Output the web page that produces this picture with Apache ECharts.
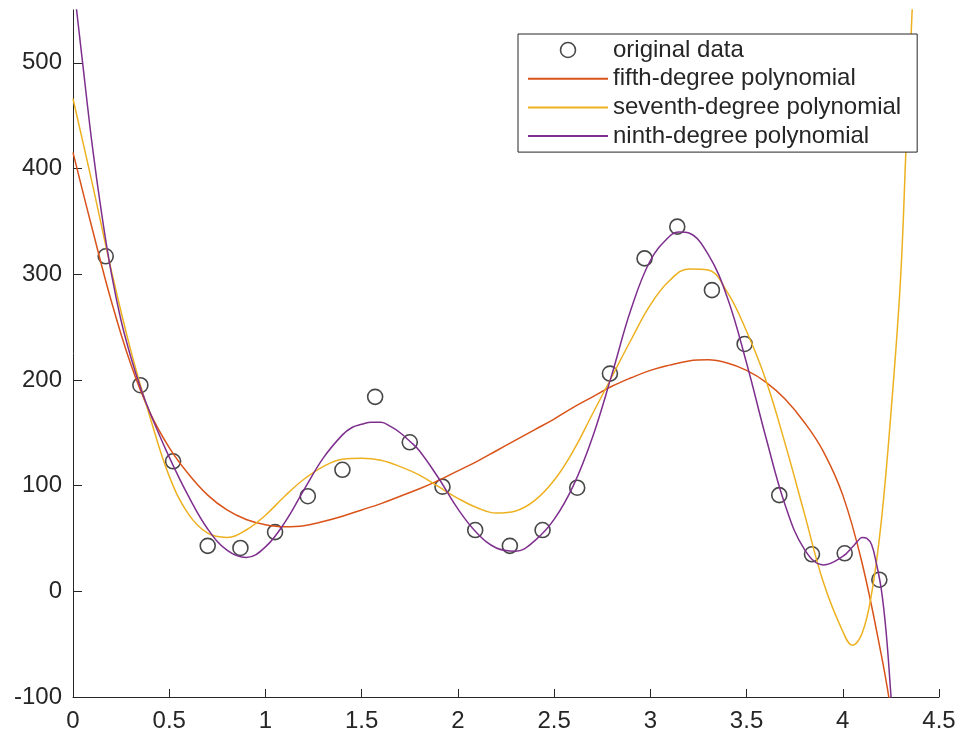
<!DOCTYPE html>
<html>
<head>
<meta charset="utf-8">
<script src="https://cdn.jsdelivr.net/npm/echarts@6/dist/echarts.min.js"></script>
<style>
html,body{margin:0;padding:0;background:#fff;}
#chart{width:962px;height:736px;}
</style>
</head>
<body>
<div id="chart"></div>
<script>
// ---- data ----
const dataX = [0.17, 0.35, 0.52, 0.70, 0.87, 1.05, 1.22, 1.40, 1.57, 1.75, 1.92, 2.09,
               2.27, 2.44, 2.62, 2.79, 2.97, 3.14, 3.32, 3.49, 3.67, 3.84, 4.01, 4.19];
const dataY = [317, 195, 123, 43, 41, 56, 90, 115, 184, 141, 99, 58,
               43, 58, 98, 206, 315, 345, 285, 234, 91, 35, 36, 11];

const fifthX = [0, 0.1, 0.2, 0.3, 0.4, 0.5, 0.6, 0.7, 0.8, 0.9, 1.0, 1.1, 1.2, 1.3, 1.4, 1.5,
                1.6, 1.7, 1.8, 1.9, 2.0, 2.1, 2.2, 2.3, 2.4, 2.5, 2.6, 2.7, 2.8, 2.9, 3.0,
                3.1, 3.2, 3.3, 3.4, 3.5, 3.6, 3.7, 3.8, 3.9, 4.0, 4.1, 4.2, 4.25];
const fifthY = [415, 343, 274, 215, 169, 136, 111, 91, 77, 68, 63, 61, 62, 66, 71, 77,
                83, 90, 97, 105, 114, 123, 133, 143, 153, 163, 174, 184, 194, 202, 209,
                214, 218, 219, 216, 209, 198, 182, 160, 132, 91, 27, -60, -112];

const seventhX = [0, 0.1, 0.2, 0.3, 0.4, 0.5, 0.6, 0.7, 0.8, 0.9, 1.0, 1.1, 1.2, 1.3, 1.4, 1.5,
                  1.6, 1.7, 1.8, 1.9, 2.0, 2.1, 2.2, 2.3, 2.4, 2.5, 2.6, 2.7, 2.8, 2.9, 3.0,
                  3.1, 3.2, 3.3, 3.4, 3.5, 3.6, 3.7, 3.8, 3.9, 4.0, 4.05, 4.1, 4.15, 4.2,
                  4.25, 4.3, 4.33, 4.35, 4.4];
const seventhY = [466, 386, 303, 228, 165, 109, 73, 55, 51, 58, 72, 90, 106, 118, 125, 126,
                  124, 118, 110, 99, 88, 79, 74, 76, 86, 105, 133, 168, 203, 238, 271,
                  294, 305, 304, 283, 246, 200, 140, 74, 8, -38, -51, -40, -2, 66,
                  168, 295, 425, 505, 720];

const ninthX = [0, 0.05, 0.1, 0.15, 0.2, 0.25, 0.3, 0.35, 0.4, 0.5, 0.6, 0.7, 0.8, 0.9, 1.0,
                1.1, 1.2, 1.3, 1.4, 1.45, 1.5, 1.55, 1.6, 1.65, 1.7, 1.75, 1.8, 1.9, 2.0,
                2.1, 2.2, 2.3, 2.4, 2.5,
                2.6, 2.7, 2.8, 2.9, 3.0, 3.1, 3.15, 3.2, 3.3, 3.4, 3.5, 3.6, 3.7, 3.8, 3.9,
                4.0, 4.05, 4.075, 4.1, 4.125, 4.15, 4.175, 4.2, 4.225, 4.25, 4.26];
const ninthY = [580, 500, 422, 356, 300, 256, 222, 193, 169, 127, 90, 59, 39, 32, 42,
                65, 96, 126, 148, 155, 158, 160, 160, 156, 150, 142, 133, 107, 78,
                55, 41, 38, 48, 68,
                100, 146, 205, 267, 313, 336, 340, 339, 319, 278, 216, 146, 82, 40, 25,
                33, 42, 47, 51, 50, 44, 26, 2, -38, -98, -125];

const xTicks = [0, 0.5, 1, 1.5, 2, 2.5, 3, 3.5, 4, 4.5];
const yTicks = [-100, 0, 100, 200, 300, 400, 500];

const names = ['original data', 'fifth-degree polynomial', 'seventh-degree polynomial', 'ninth-degree polynomial'];

// ---- build ----
const zip = (xs, ys) => xs.map((x, i) => [x, ys[i]]);
const FONT = '"Liberation Sans", Arial, sans-serif';
const AX = '#262626';
const hiddenSym = {color: 'rgba(0,0,0,0)', borderColor: 'rgba(0,0,0,0)', borderWidth: 0, opacity: 0};
const SMOOTH = 0.4;

const chart = echarts.init(document.getElementById('chart'), null, {renderer: 'canvas'});
chart.setOption({
  animation: false,
  backgroundColor: '#fff',
  grid: {left: 73, right: 23, top: 10, bottom: 39, containLabel: false},
  xAxis: {
    type: 'value', min: 0, max: 4.5, interval: 0.5,
    axisLine: {show: true, onZero: false, lineStyle: {color: AX, width: 1}},
    axisTick: {show: true, inside: true, length: 8, lineStyle: {color: AX}, customValues: xTicks},
    axisLabel: {color: AX, fontSize: 24, fontFamily: FONT, margin: 12, customValues: xTicks},
    splitLine: {show: false}
  },
  yAxis: {
    type: 'value', min: -100, max: 550, interval: 100,
    axisLine: {show: true, onZero: false, lineStyle: {color: AX, width: 1}},
    axisTick: {show: true, inside: true, length: 9, lineStyle: {color: AX}, customValues: yTicks},
    axisLabel: {color: AX, fontSize: 24, fontFamily: FONT, margin: 11, customValues: yTicks},
    splitLine: {show: false}
  },
  legend: {
    orient: 'vertical', left: 518, top: 34,
    padding: [4, 16, 4, 9], itemGap: 4.7, itemWidth: 80, itemHeight: 15,
    borderColor: AX, borderWidth: 1, backgroundColor: '#fff',
    textStyle: {fontSize: 24, color: AX, fontFamily: FONT},
    selectedMode: false,
    data: [
      {name: names[0], icon: 'circle', itemStyle: {color: 'rgba(0,0,0,0)', borderColor: '#1a1a1a', borderWidth: 1.6}},
      {name: names[1], itemStyle: hiddenSym},
      {name: names[2], itemStyle: hiddenSym},
      {name: names[3], itemStyle: hiddenSym}
    ]
  },
  series: [
    {
      name: names[0], type: 'scatter', data: zip(dataX, dataY),
      symbol: 'circle', symbolSize: 15,
      itemStyle: {color: 'rgba(0,0,0,0)', borderColor: '#1a1a1a', borderWidth: 1.6},
      z: 2
    },
    {
      name: names[1], type: 'line', data: zip(fifthX, fifthY), smooth: SMOOTH, symbol: 'none',
      lineStyle: {color: '#D95319', width: 1.5}, itemStyle: {color: '#D95319'}, clip: true, z: 3
    },
    {
      name: names[2], type: 'line', data: zip(seventhX, seventhY), smooth: SMOOTH, symbol: 'none',
      lineStyle: {color: '#EDB120', width: 1.5}, itemStyle: {color: '#EDB120'}, clip: true, z: 3
    },
    {
      name: names[3], type: 'line', data: zip(ninthX, ninthY), smooth: SMOOTH, symbol: 'none',
      lineStyle: {color: '#7E2F8E', width: 1.5}, itemStyle: {color: '#7E2F8E'}, clip: true, z: 3
    }
  ]
});
</script>
</body>
</html>
